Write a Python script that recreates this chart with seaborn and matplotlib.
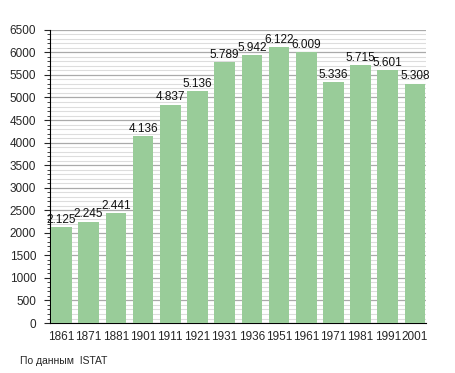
import matplotlib
matplotlib.use("Agg")
import matplotlib.pyplot as plt
from matplotlib.ticker import MultipleLocator
import seaborn as sns
import pandas as pd

years = ["1861", "1871", "1881", "1901", "1911", "1921", "1931",
         "1936", "1951", "1961", "1971", "1981", "1991", "2001"]
population = [2125, 2245, 2441, 4136, 4837, 5136, 5789,
              5942, 6122, 6009, 5336, 5715, 5601, 5308]
labels = ["2.125", "2.245", "2.441", "4.136", "4.837", "5.136", "5.789",
          "5.942", "6.122", "6.009", "5.336", "5.715", "5.601", "5.308"]

df = pd.DataFrame({"year": years, "pop": population})

sns.set_style("white")
plt.rcParams["font.family"] = ["Liberation Sans", "DejaVu Sans"]

fig = plt.figure(figsize=(4.55, 3.73), dpi=100)
ax = fig.add_axes([0.110, 0.134, 0.826, 0.786])

ax.yaxis.set_major_locator(MultipleLocator(500))
ax.yaxis.set_minor_locator(MultipleLocator(100))
ax.grid(which="minor", axis="y", color="#dddddd", linewidth=0.8)
ax.grid(which="major", axis="y", color="#aaaaaa", linewidth=0.9)
ax.set_axisbelow(True)

sns.barplot(data=df, x="year", y="pop", color="#99cc99", saturation=1,
            width=0.76, linewidth=0, ax=ax, zorder=3)

for i, (v, t) in enumerate(zip(population, labels)):
    ax.text(i, v + 30, t, ha="center", va="bottom", fontsize=8.5, color="#111111")

ax.set_xlim(-0.42, 13.4)
ax.set_ylim(0, 6500)
ax.set_xlabel("")
ax.set_ylabel("")
for s in ["top", "right"]:
    ax.spines[s].set_visible(False)
ax.spines["left"].set_color("black")
ax.spines["bottom"].set_color("black")
ax.tick_params(axis="y", which="major", left=True, length=4, width=0.8, labelsize=8.5, pad=6)
ax.tick_params(axis="y", which="minor", left=True, length=2, width=0.6)
ax.tick_params(axis="x", bottom=False, labelsize=8.5, pad=2)

fig.text(0.044, 0.018, "По данным  ISTAT", fontsize=7.5, ha="left", va="bottom")

fig.savefig("out.png", dpi=100)
